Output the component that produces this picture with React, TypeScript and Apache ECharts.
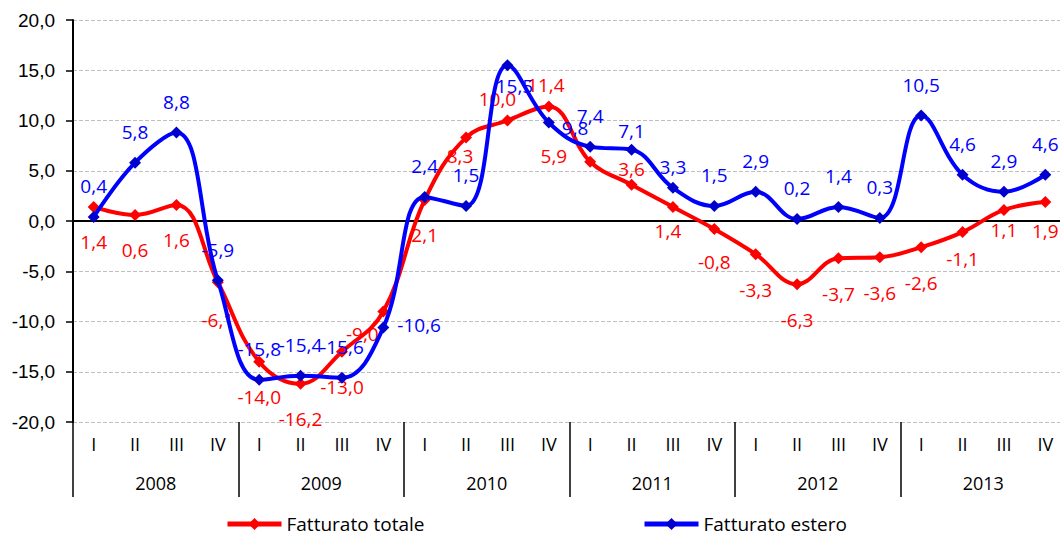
import React, { useEffect, useRef } from "react";
import * as echarts from "echarts";

const years = ["2008", "2009", "2010", "2011", "2012", "2013"];
const quarterNames = ["I", "II", "III", "IV"];
const categories = years.flatMap((y) => quarterNames.map((q) => `${y}-${q}`));

const totaleName = "Fatturato totale";
const esteroName = "Fatturato estero";

const fatturatoTotale = [
  1.4, 0.6, 1.6, -6.1,
  -14.0, -16.2, -13.0, -9.0,
  2.1, 8.3, 10.0, 11.4,
  5.9, 3.6, 1.4, -0.8,
  -3.3, -6.3, -3.7, -3.6,
  -2.6, -1.1, 1.1, 1.9,
];

const fatturatoEstero = [
  0.4, 5.8, 8.8, -5.9,
  -15.8, -15.4, -15.6, -10.6,
  2.4, 1.5, 15.5, 9.8,
  7.4, 7.1, 3.3, 1.5,
  2.9, 0.2, 1.4, 0.3,
  10.5, 4.6, 2.9, 4.6,
];

const yMin = -20;
const yMax = 20;
const yStep = 5;

const RED = "#FF0000";
const BLUE = "#0000FF";
const BLUE_MARK = "#0000CC";
const LABEL_FONT = "'Open Sans', sans-serif";

const fmt = (v: number) => v.toFixed(1).replace(".", ",");

// label placement tweaks (style only)
const redLabelTweaks: Record<number, any> = {
  3: { offset: [0, 2] },
  7: { offset: [-21, -13] },
  9: { offset: [-6, -17] },
  10: { position: "top", distance: 6, offset: [-10, 0] },
  11: { position: "top", distance: 6, offset: [-3, 0] },
  12: { position: "left", distance: 17, offset: [0, -6] },
  13: { position: "top", distance: 0 },
  14: { offset: [-5, -11] },
  15: { offset: [0, -3] },
  21: { offset: [0, -9] },
  22: { offset: [0, -15] },
  23: { offset: [0, -6] },
};

const blueLabelTweaks: Record<number, any> = {
  7: { position: "right", distance: 8, offset: [0, -3] },
  10: { position: "bottom", distance: 5, offset: [7, 0] },
  11: { position: "right", distance: 7, offset: [0, 5] },
  13: { offset: [0, 12] },
  14: { offset: [0, 10] },
};

function buildData(values: number[], tweaks: Record<number, any>) {
  return values.map((v, i) => (tweaks[i] ? { value: v, label: tweaks[i] } : { value: v }));
}

const legendCommon = {
  top: 509,
  itemWidth: 54,
  itemHeight: 15,
  lineStyle: { width: 5 },
  textStyle: { fontFamily: LABEL_FONT, fontSize: 19, lineHeight: 20, color: "#000" },
};

export default function App() {
  const ref = useRef<HTMLDivElement>(null);

  useEffect(() => {
    if (!ref.current) return;
    const chart = echarts.init(ref.current, undefined, { renderer: "svg" });

    const option: any = {
      animation: false,
      backgroundColor: "#FFFFFF",
      grid: {
        left: 73,
        top: 20,
        width: 993,
        height: 402,
        containLabel: false,
        outerBoundsMode: "none",
      },
      legend: [
        { ...legendCommon, data: [totaleName], left: 220 },
        { ...legendCommon, data: [esteroName], left: 637 },
      ],
      xAxis: [
        {
          type: "category",
          data: categories,
          position: "bottom",
          boundaryGap: true,
          axisLine: { show: false, onZero: false },
          axisTick: { show: false },
          axisLabel: {
            interval: 0,
            margin: 13,
            formatter: (v: string) => v.split("-")[1],
            fontFamily: LABEL_FONT,
            fontSize: 18,
            color: "#000",
          },
          splitLine: { show: false },
        },
        {
          type: "category",
          data: years,
          position: "bottom",
          boundaryGap: true,
          axisLine: { show: false, onZero: false },
          axisTick: {
            show: true,
            interval: 0,
            length: 75,
            lineStyle: { color: "#000", width: 1.5 },
          },
          axisLabel: {
            interval: 0,
            margin: 52,
            fontFamily: LABEL_FONT,
            fontSize: 18,
            color: "#000",
          },
          splitLine: { show: false },
        },
      ],
      yAxis: {
        type: "value",
        min: yMin,
        max: yMax,
        interval: yStep,
        axisLine: { show: true, lineStyle: { color: "#000", width: 2 } },
        axisTick: { show: true, length: 7, lineStyle: { color: "#000", width: 1.5 } },
        axisLabel: {
          margin: 18,
          formatter: (v: number) => fmt(v),
          fontFamily: "'Liberation Sans', Arial, sans-serif",
          fontSize: 19,
          color: "#000",
        },
        splitLine: { show: true, lineStyle: { color: "#BFBFBF", type: "dashed", width: 1 } },
      },
      series: [
        {
          name: totaleName,
          type: "line",
          xAxisIndex: 0,
          smooth: 0.4,
          data: buildData(fatturatoTotale, redLabelTweaks),
          symbol: "diamond",
          symbolSize: 12,
          lineStyle: { color: RED, width: 4 },
          itemStyle: { color: RED },
          label: {
            show: true,
            position: "bottom",
            distance: 20,
            formatter: (p: any) => fmt(p.value),
            fontFamily: LABEL_FONT,
            fontSize: 19,
            lineHeight: 19,
            color: RED,
          },
          markLine: {
            silent: true,
            symbol: "none",
            label: { show: false },
            lineStyle: { color: "#000", type: "solid", width: 2 },
            data: [{ yAxis: 0 }],
            z: 1,
          },
          z: 3,
        },
        {
          name: esteroName,
          type: "line",
          xAxisIndex: 0,
          smooth: 0.4,
          data: buildData(fatturatoEstero, blueLabelTweaks),
          symbol: "diamond",
          symbolSize: 12,
          lineStyle: { color: BLUE, width: 4 },
          itemStyle: { color: BLUE_MARK },
          label: {
            show: true,
            position: "top",
            distance: 15,
            formatter: (p: any) => fmt(p.value),
            fontFamily: LABEL_FONT,
            fontSize: 19,
            lineHeight: 19,
            color: BLUE,
          },
          z: 4,
        },
      ],
    };

    chart.setOption(option);
    return () => chart.dispose();
  }, []);

  return (
    <div
      ref={ref}
      style={{ position: "fixed", left: 0, top: 0, width: 1060, height: 536, background: "#fff" }}
    />
  );
}
